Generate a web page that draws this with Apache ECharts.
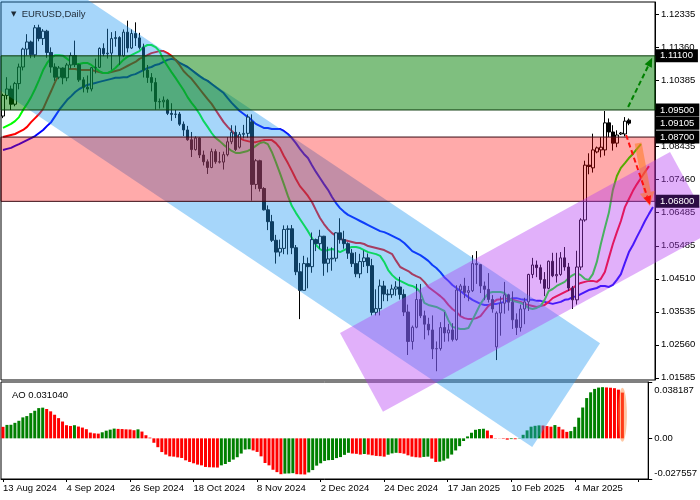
<!DOCTYPE html>
<html><head><meta charset="utf-8">
<script src="https://cdn.jsdelivr.net/npm/echarts@6/dist/echarts.min.js"></script>
<style>html,body{margin:0;padding:0;background:#fff}#c{width:700px;height:500px}</style>
</head><body><div id="c"></div>
<script>
const FONT = 'Liberation Sans, Arial, sans-serif';

const dateTickLabels = ['13 Aug 2024','4 Sep 2024','26 Sep 2024','18 Oct 2024','8 Nov 2024','2 Dec 2024','24 Dec 2024','17 Jan 2025','10 Feb 2025','4 Mar 2025'];
const priceTickValues = [1.12335,1.11360,1.10385,1.09410,1.08435,1.07460,1.06485,1.05485,1.04510,1.03535,1.02560,1.01585];
const aoTickValues = [-0.027557, 0, 0.038187];
const aoTickLabels = ['-0.027557', '0.00', '0.038187'];

const opens = [
1.0932,1.0993,1.1012,1.0967,1.1028,1.1077,1.1130,1.1151,1.1113,1.1193,
1.1161,1.1183,1.1120,1.1077,1.1047,1.1074,1.1045,1.1083,1.1111,1.1084,
1.1039,1.1017,1.1012,1.1075,1.1076,1.1132,1.1116,1.1118,1.1161,1.1164,
1.1110,1.1180,1.1133,1.1176,1.1163,1.1135,1.1068,1.1046,1.1031,1.0975,
1.0974,1.0979,1.0940,1.0937,1.0938,1.0908,1.0891,1.0862,1.0833,1.0867,
1.0817,1.0797,1.0780,1.0827,1.0797,1.0796,1.0818,1.0856,1.0884,1.0840,
1.0878,1.0881,1.0915,1.0730,1.0800,1.0718,1.0655,1.0620,1.0565,1.0530,
1.0541,1.0597,1.0599,1.0543,1.0472,1.0417,1.0496,1.0487,1.0567,1.0555,
1.0577,1.0497,1.0510,1.0512,1.0587,1.0567,1.0555,1.0527,1.0496,1.0466,
1.0502,1.0513,1.0490,1.0352,1.0363,1.0430,1.0406,1.0404,1.0421,1.0427,
1.0405,1.0353,1.0266,1.0308,1.0390,1.0342,1.0317,1.0300,1.0244,1.0245,
1.0307,1.0291,1.0300,1.0272,1.0418,1.0430,1.0411,1.0416,1.0496,1.0493,
1.0430,1.0420,1.0390,1.0250,1.0350,1.0379,1.0404,1.0382,1.0330,1.0307,
1.0362,1.0383,1.0464,1.0492,1.0484,1.0449,1.0423,1.0503,1.0460,1.0464,
1.0513,1.0486,1.0424,1.0389,1.0486,1.0625,1.0787,1.0779,1.0826,1.0832,
1.0832,1.0912,1.0885,1.0852,1.0879,1.0879,1.0920];
const highs = [
1.0998,1.1047,1.1022,1.1033,1.1087,1.1134,1.1174,1.1155,1.1201,1.1202,
1.1189,1.1187,1.1135,1.1088,1.1080,1.1076,1.1089,1.1120,1.1155,1.1087,
1.1047,1.1052,1.1077,1.1102,1.1135,1.1147,1.1190,1.1180,1.1183,1.1168,
1.1188,1.1214,1.1188,1.1209,1.1178,1.1146,1.1083,1.1059,1.1045,1.0984,
1.0990,1.0983,1.0970,1.0950,1.0944,1.0916,1.0903,1.0885,1.0872,1.0869,
1.0830,1.0804,1.0836,1.0834,1.0826,1.0827,1.0870,1.0905,1.0904,1.0885,
1.0906,1.0937,1.0937,1.0805,1.0803,1.0722,1.0668,1.0640,1.0581,1.0567,
1.0609,1.0609,1.0610,1.0551,1.0498,1.0519,1.0514,1.0588,1.0570,1.0596,
1.0578,1.0546,1.0544,1.0589,1.0630,1.0593,1.0559,1.0539,1.0530,1.0525,
1.0535,1.0526,1.0510,1.0420,1.0449,1.0445,1.0420,1.0434,1.0444,1.0457,
1.0420,1.0375,1.0313,1.0436,1.0436,1.0357,1.0336,1.0343,1.0266,1.0323,
1.0353,1.0318,1.0320,1.0432,1.0436,1.0454,1.0430,1.0521,1.0533,1.0494,
1.0443,1.0468,1.0403,1.0355,1.0399,1.0442,1.0407,1.0414,1.0349,1.0375,
1.0395,1.0466,1.0513,1.0505,1.0493,1.0471,1.0505,1.0528,1.0528,1.0530,
1.0545,1.0498,1.0430,1.0534,1.0630,1.0800,1.0822,1.0880,1.0842,1.0870,
1.0947,1.0925,1.0905,1.0890,1.0885,1.0929,1.0925];
const lows = [
1.0926,1.0981,1.0950,1.0961,1.1011,1.1067,1.1111,1.1103,1.1104,1.1153,
1.1142,1.1104,1.1060,1.1036,1.1041,1.1026,1.1035,1.1072,1.1077,1.1033,
1.1002,1.1001,1.1005,1.1058,1.1074,1.1109,1.1102,1.1069,1.1137,1.1083,
1.1106,1.1120,1.1130,1.1139,1.1129,1.1046,1.1030,1.1005,1.0951,1.0954,
1.0957,1.0935,1.0918,1.0926,1.0903,1.0873,1.0859,1.0811,1.0830,1.0808,
1.0786,1.0761,1.0778,1.0791,1.0792,1.0774,1.0813,1.0849,1.0829,1.0836,
1.0866,1.0868,1.0682,1.0716,1.0709,1.0653,1.0595,1.0560,1.0496,1.0517,
1.0524,1.0523,1.0524,1.0462,1.0332,1.0417,1.0423,1.0469,1.0533,1.0540,
1.0460,1.0470,1.0475,1.0502,1.0555,1.0540,1.0510,1.0486,1.0456,1.0453,
1.0486,1.0468,1.0343,1.0343,1.0343,1.0385,1.0385,1.0395,1.0401,1.0390,
1.0341,1.0226,1.0242,1.0305,1.0335,1.0272,1.0284,1.0214,1.0178,1.0239,
1.0265,1.0266,1.0266,1.0268,1.0342,1.0394,1.0385,1.0412,1.0436,1.0409,
1.0388,1.0381,1.0351,1.0211,1.0283,1.0348,1.0357,1.0303,1.0285,1.0295,
1.0317,1.0356,1.0453,1.0456,1.0437,1.0400,1.0420,1.0456,1.0440,1.0460,
1.0475,1.0415,1.0362,1.0375,1.0477,1.0620,1.0760,1.0765,1.0822,1.0810,
1.0815,1.0870,1.0830,1.0840,1.0876,1.0872,1.0905];
const closes = [
1.0993,1.1012,1.0967,1.1028,1.1077,1.1130,1.1151,1.1113,1.1193,1.1161,
1.1183,1.1120,1.1077,1.1047,1.1074,1.1045,1.1083,1.1111,1.1084,1.1039,
1.1017,1.1012,1.1075,1.1076,1.1132,1.1116,1.1118,1.1161,1.1164,1.1110,
1.1180,1.1133,1.1176,1.1163,1.1135,1.1068,1.1046,1.1031,1.0975,1.0974,
1.0979,1.0940,1.0937,1.0938,1.0908,1.0891,1.0862,1.0833,1.0867,1.0817,
1.0797,1.0780,1.0827,1.0797,1.0796,1.0818,1.0856,1.0884,1.0833,1.0878,
1.0881,1.0929,1.0730,1.0800,1.0718,1.0655,1.0620,1.0565,1.0530,1.0541,
1.0597,1.0599,1.0543,1.0472,1.0417,1.0496,1.0487,1.0567,1.0555,1.0577,
1.0497,1.0510,1.0512,1.0587,1.0567,1.0555,1.0527,1.0496,1.0466,1.0502,
1.0513,1.0490,1.0352,1.0363,1.0430,1.0406,1.0404,1.0421,1.0427,1.0405,
1.0353,1.0266,1.0308,1.0390,1.0342,1.0317,1.0300,1.0244,1.0245,1.0307,
1.0291,1.0300,1.0272,1.0418,1.0430,1.0411,1.0416,1.0496,1.0493,1.0430,
1.0420,1.0390,1.0362,1.0350,1.0379,1.0404,1.0382,1.0330,1.0307,1.0362,
1.0383,1.0464,1.0492,1.0484,1.0449,1.0423,1.0503,1.0460,1.0464,1.0513,
1.0486,1.0424,1.0389,1.0486,1.0625,1.0787,1.0783,1.0832,1.0838,1.0840,
1.0912,1.0885,1.0852,1.0876,1.0882,1.0917,1.0911];

// Alligator lines, already drawn with their forward shift
const lipsGreen = [
1.0897,1.0903,1.0909,1.0917,1.0929,1.0950,1.0968,1.0988,1.1012,1.1039,
1.1068,1.1089,1.1104,1.1112,1.1112,1.1110,1.1101,1.1092,1.1086,1.1086,
1.1089,1.1089,1.1083,1.1074,1.1065,1.1059,1.1059,1.1065,1.1074,1.1086,
1.1098,1.1107,1.1112,1.1118,1.1124,1.1136,1.1142,1.1142,1.1136,1.1124,
1.1098,1.1080,1.1062,1.1045,1.1027,1.1009,1.0988,1.0971,1.0956,1.0938,
1.0917,1.0900,1.0882,1.0867,1.0858,1.0847,1.0838,1.0829,1.0823,1.0823,
1.0826,1.0829,1.0835,1.0844,1.0852,1.0855,1.0849,1.0826,1.0796,1.0764,
1.0731,1.0696,1.0666,1.0646,1.0628,1.0610,1.0592,1.0572,1.0551,1.0539,
1.0533,1.0536,1.0539,1.0536,1.0530,1.0536,1.0542,1.0545,1.0545,1.0542,
1.0536,1.0530,1.0527,1.0524,1.0519,1.0501,1.0477,1.0462,1.0451,1.0445,
1.0439,1.0433,1.0430,1.0424,1.0412,1.0380,1.0374,1.0371,1.0368,1.0362,
1.0356,1.0329,1.0309,1.0306,1.0303,1.0303,1.0306,1.0329,1.0353,1.0377,
1.0394,1.0409,1.0412,1.0412,1.0412,1.0409,1.0394,1.0386,1.0383,1.0380,
1.0374,1.0365,1.0362,1.0365,1.0371,1.0389,1.0415,1.0421,1.0430,1.0436,
1.0442,1.0454,1.0462,1.0468,1.0462,1.0451,1.0448,1.0465,1.0501,1.0554,
1.0601,1.0646,1.0714,1.0755,1.0779,1.0793,1.0808,1.0820,1.0835,1.0849];
const teethRed = [
1.0870,1.0873,1.0876,1.0879,1.0885,1.0891,1.0900,1.0914,1.0926,1.0938,
1.0953,1.0980,1.1006,1.1033,1.1056,1.1068,1.1071,1.1071,1.1071,1.1068,
1.1068,1.1068,1.1068,1.1065,1.1062,1.1059,1.1059,1.1062,1.1065,1.1068,
1.1074,1.1080,1.1086,1.1092,1.1101,1.1107,1.1112,1.1118,1.1121,1.1124,
1.1124,1.1118,1.1110,1.1098,1.1083,1.1065,1.1053,1.1042,1.1027,1.1012,
1.0997,1.0982,1.0968,1.0950,1.0932,1.0914,1.0900,1.0888,1.0876,1.0867,
1.0861,1.0858,1.0855,1.0855,1.0858,1.0861,1.0861,1.0861,1.0852,1.0838,
1.0814,1.0793,1.0770,1.0746,1.0725,1.0711,1.0696,1.0678,1.0654,1.0631,
1.0613,1.0598,1.0586,1.0578,1.0569,1.0566,1.0563,1.0560,1.0557,1.0557,
1.0554,1.0548,1.0545,1.0542,1.0539,1.0536,1.0530,1.0524,1.0504,1.0486,
1.0480,1.0474,1.0465,1.0459,1.0454,1.0442,1.0427,1.0418,1.0409,1.0400,
1.0389,1.0374,1.0362,1.0353,1.0341,1.0335,1.0332,1.0332,1.0335,1.0341,
1.0356,1.0371,1.0380,1.0389,1.0391,1.0394,1.0391,1.0389,1.0386,1.0383,
1.0377,1.0374,1.0371,1.0368,1.0371,1.0374,1.0383,1.0394,1.0400,1.0406,
1.0412,1.0418,1.0424,1.0433,1.0439,1.0442,1.0445,1.0445,1.0442,1.0451,
1.0471,1.0513,1.0554,1.0589,1.0622,1.0663,1.0687,1.0711,1.0731,1.0749,
1.0767,1.0784];
const jawBlue = [
1.0832,1.0835,1.0838,1.0844,1.0849,1.0855,1.0861,1.0867,1.0873,1.0882,
1.0891,1.0903,1.0914,1.0932,1.0950,1.0965,1.0980,1.0991,1.1003,1.1012,
1.1018,1.1024,1.1027,1.1030,1.1033,1.1036,1.1039,1.1042,1.1045,1.1045,
1.1047,1.1047,1.1053,1.1056,1.1062,1.1068,1.1074,1.1077,1.1083,1.1086,
1.1092,1.1098,1.1101,1.1098,1.1089,1.1083,1.1077,1.1068,1.1059,1.1050,
1.1042,1.1036,1.1027,1.1018,1.1009,1.1000,1.0985,1.0971,1.0959,1.0947,
1.0938,1.0929,1.0920,1.0909,1.0903,1.0897,1.0897,1.0894,1.0894,1.0894,
1.0888,1.0879,1.0867,1.0852,1.0835,1.0820,1.0808,1.0787,1.0767,1.0749,
1.0731,1.0714,1.0693,1.0675,1.0660,1.0649,1.0640,1.0634,1.0628,1.0622,
1.0616,1.0610,1.0604,1.0598,1.0592,1.0589,1.0584,1.0578,1.0572,1.0566,
1.0557,1.0545,1.0533,1.0527,1.0521,1.0513,1.0504,1.0492,1.0483,1.0471,
1.0456,1.0445,1.0433,1.0424,1.0415,1.0406,1.0397,1.0389,1.0383,1.0377,
1.0374,1.0374,1.0377,1.0377,1.0380,1.0383,1.0389,1.0394,1.0394,1.0391,
1.0389,1.0389,1.0389,1.0386,1.0386,1.0383,1.0380,1.0377,1.0380,1.0383,
1.0389,1.0391,1.0397,1.0400,1.0406,1.0412,1.0418,1.0421,1.0424,1.0430,
1.0430,1.0427,1.0433,1.0448,1.0465,1.0498,1.0530,1.0551,1.0575,1.0598,
1.0622,1.0643,1.0663];

const aoValues = [
0.0078,0.0091,0.0092,0.0105,0.0119,0.0142,0.0151,0.0171,0.0187,0.0205,
0.0208,0.0199,0.0183,0.0160,0.0137,0.0114,0.0089,0.0084,0.0089,0.0080,
0.0073,0.0062,0.0039,0.0034,0.0032,0.0041,0.0052,0.0059,0.0066,0.0064,
0.0063,0.0061,0.0060,0.0055,0.0061,0.0046,0.0021,0.0005,-0.0030,-0.0060,
-0.0093,-0.0110,-0.0122,-0.0124,-0.0129,-0.0133,-0.0149,-0.0160,-0.0169,-0.0178,
-0.0183,-0.0194,-0.0196,-0.0197,-0.0198,-0.0183,-0.0174,-0.0160,-0.0144,-0.0128,
-0.0103,-0.0076,-0.0074,-0.0082,-0.0092,-0.0122,-0.0167,-0.0183,-0.0213,-0.0229,
-0.0243,-0.0239,-0.0238,-0.0236,-0.0243,-0.0244,-0.0245,-0.0231,-0.0215,-0.0185,
-0.0169,-0.0153,-0.0148,-0.0147,-0.0134,-0.0127,-0.0112,-0.0098,-0.0103,-0.0105,
-0.0110,-0.0106,-0.0110,-0.0115,-0.0119,-0.0121,-0.0124,-0.0111,-0.0102,-0.0098,
-0.0100,-0.0104,-0.0115,-0.0124,-0.0128,-0.0130,-0.0126,-0.0124,-0.0137,-0.0160,
-0.0158,-0.0151,-0.0137,-0.0110,-0.0082,-0.0053,-0.0018,0.0013,0.0038,0.0058,
0.0063,0.0065,0.0053,0.0022,0.0002,0.0001,-0.0003,-0.0009,-0.0005,-0.0006,
0.0002,0.0024,0.0054,0.0079,0.0085,0.0088,0.0087,0.0083,0.0079,0.0090,
0.0078,0.0060,0.0044,0.0049,0.0078,0.0140,0.0209,0.0273,0.0312,0.0335,
0.0344,0.0347,0.0345,0.0343,0.0340,0.0330,0.0310];

// price levels and annotations (bar index, price)
const levelLabels = [1.11100, 1.09500, 1.09105, 1.08700, 1.06800];
const greenZone = [1.111, 1.095];
const redZone = [1.087, 1.068];
const blueChannel = [[-15.7,1.1568],[148.8,1.0261],[131.9,0.9954],[-15.7,1.1127]];
const purpleChannel = [[84.0,1.0291],[166.25,1.0826],[177.0,1.0592],[94.7,1.0058]];
const greenArrow = [[155.8,1.0959],[161.8,1.1104]];
const redArrow = [[155.3,1.0876],[161.3,1.0669]];
const orangeArrow = [[158.3,1.0852],[161.2,1.0666]];
const aoHighlight = [156, 0.0160];

const N_SLOTS = 163;
const categories = Array.from({length: N_SLOTS}, (_, i) => String(i));
const candleData = opens.map((o, i) => [o, closes[i], lows[i], highs[i]]);
const zoneRect = z => [[-0.5, z[0]], [N_SLOTS - 0.5, z[0]], [N_SLOTS - 0.5, z[1]], [-0.5, z[1]]];

const overlayShapes = [
  {kind: 'poly', pts: blueChannel, fill: 'rgba(32,152,242,0.4)'},
  {kind: 'poly', pts: zoneRect(greenZone), fill: 'rgba(0,128,0,0.5)', stroke: '#0b3a0b'},
  {kind: 'poly', pts: zoneRect(redZone), fill: 'rgba(255,0,0,0.333)', stroke: '#3a0b14'},
  {kind: 'poly', pts: purpleChannel, fill: 'rgba(180,58,242,0.4)'},
  {kind: 'arrow', from: orangeArrow[0], to: orangeArrow[1], color: 'rgba(255,120,30,0.55)', width: 7, head: 14, headW: 15, dash: null},
  {kind: 'arrow', from: redArrow[0], to: redArrow[1], color: '#ff1010', width: 2, head: 9, headW: 8, dash: [5, 3]},
  {kind: 'arrow', from: greenArrow[0], to: greenArrow[1], color: '#008000', width: 2, head: 9, headW: 8, dash: [5, 3]}
];

function renderOverlay(params, api) {
  const s = overlayShapes[params.dataIndex];
  if (s.kind === 'poly') {
    return {type: 'polygon', shape: {points: s.pts.map(p => api.coord(p))},
      style: {fill: s.fill, stroke: s.stroke || 'none', lineWidth: 1}};
  }
  const a = api.coord(s.from), b = api.coord(s.to);
  const dx = b[0] - a[0], dy = b[1] - a[1], len = Math.hypot(dx, dy);
  const ux = dx / len, uy = dy / len;
  const base = [b[0] - ux * s.head, b[1] - uy * s.head];
  const hw = s.headW / 2;
  const l = [base[0] - uy * hw, base[1] + ux * hw], r = [base[0] + uy * hw, base[1] - ux * hw];
  return {type: 'group', children: [
    {type: 'line', shape: {x1: a[0], y1: a[1], x2: base[0], y2: base[1]},
      style: {stroke: s.color, lineWidth: s.width, lineDash: s.dash || null}},
    {type: 'polygon', shape: {points: [b, l, r]}, style: {fill: s.color}}
  ]};
}

const chart = echarts.init(document.getElementById('c'), null, {renderer: 'canvas'});
const txt = {fontFamily: FONT, fontSize: 9.5, color: '#000'};

chart.setOption({
  animation: false,
  backgroundColor: '#fff',
  title: [
    {text: '{tri|▼}  EURUSD,Daily', left: 6, top: 4,
      textStyle: {fontFamily: FONT, fontSize: 9.5, fontWeight: 'normal', color: '#1e2a36',
        rich: {tri: {fontSize: 7, color: '#1e2a36', fontFamily: 'DejaVu Sans'}}}},
    {text: 'AO 0.031040', left: 7, top: 385,
      textStyle: {fontFamily: FONT, fontSize: 9.5, fontWeight: 'normal', color: '#000'}}
  ],
  grid: [
    {left: 1, right: 45, top: 2, height: 378, show: true, borderColor: '#000', borderWidth: 1, backgroundColor: 'transparent'},
    {left: 1, right: 45, top: 382, height: 97, show: true, borderColor: '#000', borderWidth: 1, backgroundColor: 'transparent'}
  ],
  xAxis: [
    {type: 'category', gridIndex: 0, data: categories, boundaryGap: true, show: false},
    {type: 'category', gridIndex: 1, data: categories, boundaryGap: true,
      axisLine: {show: true, onZero: false, lineStyle: {color: '#000'}},
      axisTick: {show: true, interval: 15, alignWithLabel: true, length: 3, lineStyle: {color: '#000'}},
      axisLabel: Object.assign({interval: 15, align: 'left', margin: 4,
        formatter: (v, i) => (i % 16 === 0 && dateTickLabels[i / 16]) ? dateTickLabels[i / 16] : ''}, txt),
      splitLine: {show: false}},
    {type: 'value', gridIndex: 0, min: -0.5, max: N_SLOTS - 0.5, show: false,
      axisLine: {show: false, onZero: false}, axisTick: {show: false}, axisLabel: {show: false}, splitLine: {show: false}}
  ],
  yAxis: [
    {type: 'value', gridIndex: 0, position: 'right', min: 1.01521, max: 1.12691,
      axisLine: {show: true, onZero: false, lineStyle: {color: '#000'}},
      axisTick: {show: true, length: 4, customValues: priceTickValues, lineStyle: {color: '#000'}},
      axisLabel: Object.assign({customValues: priceTickValues, margin: 6, formatter: v => v.toFixed(5)}, txt),
      splitLine: {show: false}},
    {type: 'value', gridIndex: 1, position: 'right', min: -0.027557, max: 0.038187,
      axisLine: {show: true, onZero: false, lineStyle: {color: '#000'}},
      axisTick: {show: true, length: 4, customValues: aoTickValues, lineStyle: {color: '#000'}},
      axisLabel: Object.assign({customValues: aoTickValues, margin: 6,
        formatter: v => {
          const k = aoTickValues.findIndex(t => Math.abs(t - v) < 1e-7);
          const s = aoTickLabels[k];
          return k === 2 ? '{t|' + s + '}' : (k === 0 ? '{b|' + s + '}' : s);
        },
        rich: {
          t: {padding: [16, 0, 0, 0], fontFamily: FONT, fontSize: 9.5, color: '#000'},
          b: {padding: [0, 0, 12, 0], fontFamily: FONT, fontSize: 9.5, color: '#000'}
        }}, txt),
      splitLine: {show: false}}
  ],
  series: [
    {type: 'candlestick', name: 'EURUSD', xAxisIndex: 0, yAxisIndex: 0, data: candleData, barWidth: 3, z: 2,
      itemStyle: {color: '#ffffff', color0: '#000000', borderColor: '#000000', borderColor0: '#000000', borderWidth: 1},
      markLine: {silent: true, symbol: 'none', animation: false, precision: 5,
        lineStyle: {color: 'transparent', width: 1},
        label: {show: true, position: 'end', distance: 1, color: '#fff', backgroundColor: '#000',
          padding: [2, 5, 1, 4], fontFamily: FONT, fontSize: 9.5,
          formatter: p => Number(p.data.yAxis).toFixed(5)},
        data: levelLabels.map(v => v === 1.068
          ? {yAxis: v, label: {backgroundColor: '#2c0c44'}}
          : {yAxis: v})}},
    {type: 'line', name: 'Jaw', xAxisIndex: 0, yAxisIndex: 0, data: jawBlue, showSymbol: false, symbol: 'none', z: 2,
      lineStyle: {color: '#0000ff', width: 2}},
    {type: 'line', name: 'Teeth', xAxisIndex: 0, yAxisIndex: 0, data: teethRed, showSymbol: false, symbol: 'none', z: 2,
      lineStyle: {color: '#ff0000', width: 2}},
    {type: 'line', name: 'Lips', xAxisIndex: 0, yAxisIndex: 0, data: lipsGreen, showSymbol: false, symbol: 'none', z: 2,
      lineStyle: {color: '#00ff00', width: 2}},
    {type: 'custom', name: 'overlays', xAxisIndex: 2, yAxisIndex: 0, z: 3, clip: false, silent: true,
      data: overlayShapes.map((s, i) => [i, 1.07]), renderItem: renderOverlay},
    {type: 'bar', name: 'AO', xAxisIndex: 1, yAxisIndex: 1, data: aoValues, barWidth: 3, z: 2,
      itemStyle: {color: p => (p.dataIndex > 0 && aoValues[p.dataIndex] > aoValues[p.dataIndex - 1]) ? '#008000' : '#ff0000'}},
    {type: 'custom', name: 'AO highlight', xAxisIndex: 1, yAxisIndex: 1, z: 3, clip: false, silent: true,
      data: [aoHighlight],
      renderItem: (params, api) => {
        const c = api.coord([api.value(0), api.value(1)]);
        return {type: 'circle', x: c[0], y: c[1], scaleX: 4.5 / 27, scaleY: 1,
          shape: {cx: 0, cy: 0, r: 27}, style: {fill: 'rgba(255,130,50,0.45)'}};
      }}
  ]
});
</script>
</body></html>
